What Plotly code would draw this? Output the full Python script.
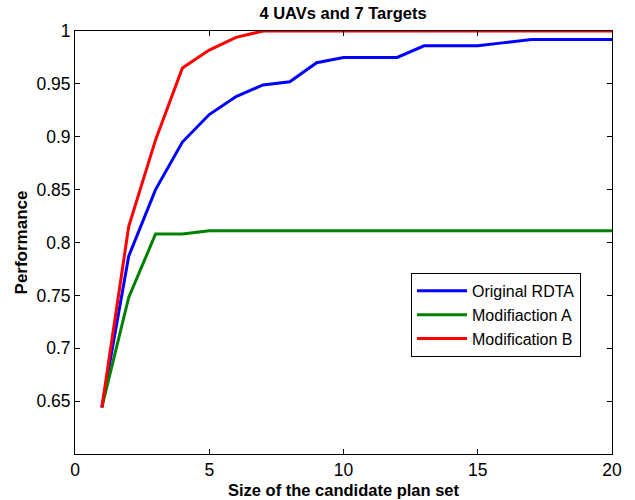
import plotly.graph_objects as go

# Candidate plan set sizes
plan_sizes = list(range(1, 21))

original_rdta = [0.644, 0.787, 0.850, 0.895, 0.921, 0.938, 0.949, 0.952, 0.970, 0.975,
                 0.975, 0.975, 0.986, 0.986, 0.986, 0.989, 0.992, 0.992, 0.992, 0.992]
modification_a = [0.644, 0.748, 0.808, 0.808, 0.811, 0.811, 0.811, 0.811, 0.811, 0.811,
                  0.811, 0.811, 0.811, 0.811, 0.811, 0.811, 0.811, 0.811, 0.811, 0.811]
modification_b = [0.644, 0.815, 0.897, 0.965, 0.982, 0.994, 1.000, 1.000, 1.000, 1.000,
                  1.000, 1.000, 1.000, 1.000, 1.000, 1.000, 1.000, 1.000, 1.000, 1.000]

series = [
    ("Original RDTA", original_rdta, "#0000ff"),
    ("Modifiaction A", modification_a, "#008000"),
    ("Modification B", modification_b, "#ff0000"),
]

x_ticks = [0, 5, 10, 15, 20]
y_ticks = [0.65, 0.7, 0.75, 0.8, 0.85, 0.9, 0.95, 1]
y_tick_text = ["0.65", "0.7", "0.75", "0.8", "0.85", "0.9", "0.95", "1"]

font_family = "Liberation Sans, Arial, Helvetica, sans-serif"

fig = go.Figure()
for name, values, color in series:
    fig.add_trace(go.Scatter(
        x=plan_sizes, y=values, mode="lines", name=name,
        line=dict(color=color, width=3),
        cliponaxis=False,
    ))

axis_common = dict(
    showgrid=False, zeroline=False, showline=True, linecolor="black", linewidth=1,
    mirror="ticks", ticks="inside", ticklen=5, tickcolor="black", tickwidth=1,
    tickfont=dict(family=font_family, size=17.5, color="black"),
    automargin=False,
)

fig.update_layout(
    width=635, height=500,
    margin=dict(l=75, r=23, t=31, b=46),
    paper_bgcolor="white", plot_bgcolor="white",
    font=dict(family=font_family, color="black"),
    title=dict(text="<b>4 UAVs and 7 Targets</b>", x=(343 / 635), xanchor="center",
               y=1 - 13 / 500, yanchor="middle",
               font=dict(family=font_family, size=16.5, color="black")),
    xaxis=dict(range=[0, 20], tickvals=x_ticks,
               title=dict(text="<b>Size of the candidate plan set</b>", standoff=5,
                          font=dict(family=font_family, size=16.5, color="black")),
               **axis_common),
    yaxis=dict(range=[0.6, 1], tickvals=y_ticks, ticktext=y_tick_text,
               title=dict(text="<b>Performance</b>", standoff=4,
                          font=dict(family=font_family, size=17, color="black")),
               **axis_common),
    legend=dict(x=0.6257, y=0.428, xanchor="left", yanchor="top",
                bordercolor="black", borderwidth=1, bgcolor="white",
                font=dict(family=font_family, size=16, color="black"),
                tracegroupgap=0, itemwidth=50),
    showlegend=True,
)

fig.write_html("out.html")
